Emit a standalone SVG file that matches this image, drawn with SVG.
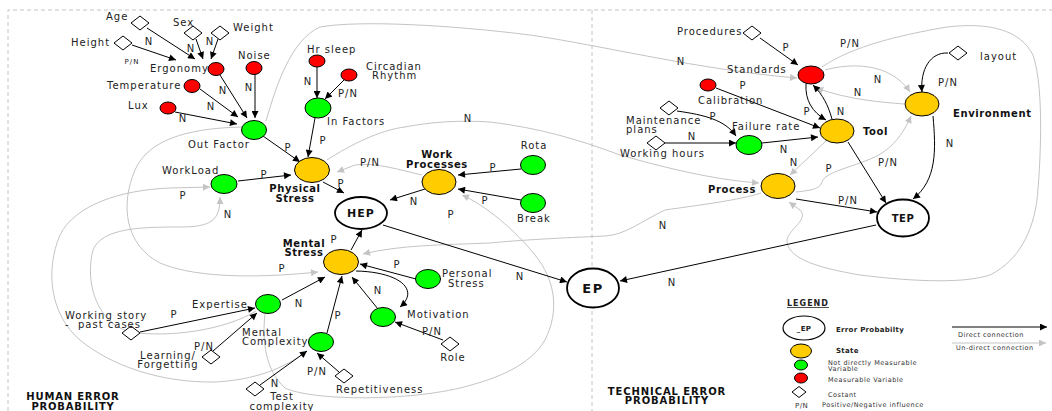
<svg xmlns="http://www.w3.org/2000/svg" width="1052" height="411" viewBox="0 0 1052 411">
<style>
text{font-family:"DejaVu Sans","Liberation Sans",sans-serif;font-size:10px;letter-spacing:1px;fill:#222}
.b{font-weight:bold;letter-spacing:0.6px;fill:#111}
.m{text-anchor:middle}
.s{font-size:7px;letter-spacing:1px}
.lg{font-size:6.5px;letter-spacing:0.5px;fill:#333}
.lb{font-size:7px;font-weight:bold;letter-spacing:0.3px;fill:#222}
.k{fill:none;stroke:#000;stroke-width:1;marker-end:url(#ab)}
.g{fill:none;stroke:#c4c4c4;stroke-width:1;marker-end:url(#ag)}
.red{fill:#ff0000;stroke:#000;stroke-width:1}
.grn{fill:#00ff00;stroke:#000;stroke-width:1}
.yel{fill:#ffcc00;stroke:#000;stroke-width:1}
.wh{fill:#fff;stroke:#000;stroke-width:1.8}
.dm{fill:#fff;stroke:#000;stroke-width:1}
</style>
<defs>
<marker id="ab" viewBox="0 0 10 10" refX="10" refY="5" markerWidth="9" markerHeight="7" markerUnits="userSpaceOnUse" orient="auto"><path d="M0,0 L10,5 L0,10 z" fill="#000"/></marker>
<marker id="ag" viewBox="0 0 10 10" refX="10" refY="5" markerWidth="9" markerHeight="7" markerUnits="userSpaceOnUse" orient="auto"><path d="M0,0 L10,5 L0,10 z" fill="#c4c4c4"/></marker>
<path id="dm" class="dm" d="M-9,0 L0,-7 L9,0 L0,7 Z"/>
</defs>
<rect width="1052" height="411" fill="#fff"/>
<path d="M8,411 V10 H1052 M592,10 V411" fill="none" stroke="#c4c4c4" stroke-dasharray="4 3"/>

<g id="connectors">
<!-- gray (indirect) -->
<path class="g" d="M266,121 C275,90 290,40 320,27 C360,20 450,25 530,35 C600,45 700,70 797,78"/>
<path class="g" d="M327,160 C350,145 380,130 405,127 C430,122 460,120 490,122 C540,128 580,140 620,155 C680,172 720,180 759,183"/>
<path class="g" d="M422,175 C400,170 375,162 355,165 L337,172"/>
<path class="g" d="M761,193 C740,200 700,205 665,210 C640,222 625,235 605,236 C560,238 520,240 490,243 C440,245 400,245 363,254"/>
<path class="g" d="M265,314 C262,340 265,370 285,388 C310,400 400,402 460,388 C500,378 530,365 545,340 C560,310 555,280 535,255 C515,230 485,205 462,195"/>
<path class="g" d="M242,127 C200,128 150,135 135,170 C120,205 125,245 160,263 C200,280 270,277 318,272"/>
<path class="g" d="M256,311 C225,330 170,338 130,332 C95,322 85,280 93,250 C102,228 140,227 180,227 C212,227 220,220 220,197"/>
<path class="g" d="M307,351 C285,368 255,380 215,382 C160,383 110,365 80,340 C50,315 45,270 60,235 C75,205 120,190 170,188 L210,187"/>
<path class="g" d="M822,67 C840,55 870,40 947,27 C990,22 1020,30 1033,55 C1045,90 1040,170 1037,200 C1033,230 1020,260 990,275 C960,285 900,280 860,275 C820,268 790,260 787,242 C786,230 810,220 800,210 L789,202"/>
<path class="g" d="M825,70 C850,63 890,62 910,92"/>
<path class="g" d="M904,104 C880,102 850,100 816,88"/>
<path class="g" d="M826,141 L790,175"/>
<path class="g" d="M796,192 C815,190 820,188 822,182 C825,172 850,168 875,157 C895,147 905,130 911,116"/>
<!-- black (direct) -->
<path class="k" d="M147,28 L195,59"/>
<path class="k" d="M132,45 L176,60"/>
<path class="k" d="M196,39 L203,59"/>
<path class="k" d="M218,39 L211,59"/>
<path class="k" d="M220,75 L247,118"/>
<path class="k" d="M255,73 L255,118"/>
<path class="k" d="M200,89 L238,117"/>
<path class="k" d="M175,112 L237,124"/>
<path class="k" d="M317,67 L317,98"/>
<path class="k" d="M345,79 L325,99"/>
<path class="k" d="M315,118 L308,157"/>
<path class="k" d="M263,136 L300,162"/>
<path class="k" d="M238,181 L291,175"/>
<path class="k" d="M323,182 L344,193"/>
<path class="k" d="M425,189 L390,200"/>
<path class="k" d="M521,169 L458,175"/>
<path class="k" d="M521,200 L458,189"/>
<path class="k" d="M351,250 L362,230"/>
<path class="k" d="M383,225 L567,282"/>
<path class="k" d="M416,279 L360,264"/>
<path class="k" d="M378,309 L352,277"/>
<path class="k" d="M356,271 C400,272 420,290 400,307"/>
<path class="k" d="M327,333 L342,276"/>
<path class="k" d="M282,300 L325,277"/>
<path class="k" d="M140,332 L255,308"/>
<path class="k" d="M213,351 L257,313"/>
<path class="k" d="M260,385 L307,351"/>
<path class="k" d="M339,372 L317,353"/>
<path class="k" d="M443,340 L395,322"/>
<path class="k" d="M760,38 L798,65"/>
<path class="k" d="M716,88 L820,128"/>
<path class="k" d="M677,111 C705,115 725,120 736,136"/>
<path class="k" d="M665,143 L736,143"/>
<path class="k" d="M762,143 L818,137"/>
<path class="k" d="M806,84 C805,100 812,112 826,120"/>
<path class="k" d="M832,119 C828,105 823,95 813,85"/>
<path class="k" d="M948,53 C930,52 920,70 922,92"/>
<path class="k" d="M933,116 C936,150 937,180 913,199"/>
<path class="k" d="M848,142 L886,203"/>
<path class="k" d="M796,199 L877,212"/>
<path class="k" d="M876,225 L620,281"/>
<!-- labels -->
<text class="m" x="149" y="45">N</text>
<text class="m s" x="132" y="64">P/N</text>
<text class="m" x="191" y="52">N</text>
<text class="m" x="210" y="45">N</text>
<text class="m" x="223" y="94">N</text>
<text class="m" x="249" y="91">N</text>
<text class="m" x="211" y="110">N</text>
<text class="m" x="183" y="122">N</text>
<text class="m" x="308" y="85">N</text>
<text class="m" x="348" y="97">P/N</text>
<text class="m" x="323" y="144">P</text>
<text class="m" x="288" y="151">P</text>
<text class="m" x="264" y="178">P</text>
<text class="m" x="341" y="187">P</text>
<text class="m" x="414" y="205">N</text>
<text class="m" x="493" y="171">P</text>
<text class="m" x="485" y="204">P</text>
<text class="m" x="334" y="243">P</text>
<text class="m" x="520" y="280">N</text>
<text class="m" x="397" y="268">P</text>
<text class="m" x="378" y="294">N</text>
<text class="m" x="338" y="319">P</text>
<text class="m" x="299" y="307">N</text>
<text class="m" x="174" y="318">P</text>
<text class="m" x="204" y="350">P/N</text>
<text class="m" x="275" y="387">N</text>
<text class="m" x="317" y="375">P/N</text>
<text class="m" x="432" y="335">P/N</text>
<text class="m" x="786" y="51">P</text>
<text class="m" x="743" y="89">P</text>
<text class="m" x="713" y="120">P</text>
<text class="m" x="692" y="140">N</text>
<text class="m" x="784" y="153">N</text>
<text class="m" x="807" y="115">P</text>
<text class="m" x="841" y="115">N</text>
<text class="m" x="948" y="86">P/N</text>
<text class="m" x="950" y="147">N</text>
<text class="m" x="888" y="166">P/N</text>
<text class="m" x="848" y="204">P/N</text>
<text class="m" x="672" y="286">N</text>
<text class="m" x="681" y="65">N</text>
<text class="m" x="468" y="122">N</text>
<text class="m" x="370" y="166">P/N</text>
<text class="m" x="663" y="229">N</text>
<text class="m" x="451" y="218">P</text>
<text class="m" x="282" y="272">P</text>
<text class="m" x="228" y="218">N</text>
<text class="m" x="183" y="199">P</text>
<text class="m" x="850" y="47">P/N</text>
<text class="m" x="878" y="83">N</text>
<text class="m" x="858" y="96">N</text>
<text class="m" x="794" y="166">N</text>
<text class="m" x="829" y="172">P</text>
</g>

<g id="age"><use href="#dm" x="140" y="23"/><text x="106" y="20">Age</text></g>
<g id="sex"><use href="#dm" x="193" y="33"/><text x="173" y="26">Sex</text></g>
<g id="weight"><use href="#dm" x="220" y="33"/><text x="233" y="31">Weight</text></g>
<g id="height"><use href="#dm" x="123" y="43"/><text x="71" y="46">Height</text></g>
<g id="ergonomy"><ellipse class="red" cx="216" cy="69" rx="8" ry="6.5"/><text x="150" y="72">Ergonomy</text></g>
<g id="noise"><ellipse class="red" cx="254" cy="68" rx="8" ry="6.5"/><text x="238" y="59">Noise</text></g>
<g id="temperature"><ellipse class="red" cx="192" cy="86" rx="8" ry="6.5"/><text x="107" y="89">Temperature</text></g>
<g id="lux"><ellipse class="red" cx="168" cy="108" rx="8" ry="6"/><text x="128" y="109">Lux</text></g>
<g id="outfactor"><ellipse class="grn" cx="254" cy="130" rx="12.5" ry="9.5"/><text x="188" y="148">Out Factor</text></g>
<g id="workload"><ellipse class="grn" cx="224" cy="184" rx="13" ry="9.5"/><text x="162" y="174">WorkLoad</text></g>
<g id="hrsleep"><ellipse class="red" cx="317" cy="61" rx="8" ry="6"/><text x="307" y="53">Hr sleep</text></g>
<g id="circadian"><ellipse class="red" cx="349" cy="75" rx="8" ry="6"/><text x="366" y="70">Circadian</text><text x="372" y="79">Rhythm</text></g>
<g id="infactors"><ellipse class="grn" cx="318" cy="108" rx="13" ry="10"/><text x="327" y="125">In Factors</text></g>
<g id="physicalstress"><ellipse class="yel" cx="312" cy="170" rx="17.5" ry="12.5"/><text class="b m" x="295" y="192">Physical</text><text class="b m" x="295" y="202">Stress</text></g>
<g id="workprocesses"><ellipse class="yel" cx="439" cy="182" rx="17" ry="12.5"/><text class="b m" x="437" y="158">Work</text><text class="b m" x="437" y="168">Processes</text></g>
<g id="rota"><ellipse class="grn" cx="533" cy="165" rx="12.5" ry="9.5"/><text class="m" x="534" y="149">Rota</text></g>
<g id="break"><ellipse class="grn" cx="533" cy="203" rx="12.5" ry="9.5"/><text class="m" x="534" y="222">Break</text></g>
<g id="hep"><ellipse class="wh" cx="361" cy="213" rx="26" ry="16"/><text class="b m" x="361" y="217" style="font-size:11px;letter-spacing:1px">HEP</text></g>
<g id="mentalstress"><ellipse class="yel" cx="341" cy="262" rx="17.5" ry="12.5"/><text class="b m" x="304" y="247">Mental</text><text class="b m" x="304" y="256">Stress</text></g>
<g id="personalstress"><ellipse class="grn" cx="428" cy="279" rx="12.5" ry="9.5"/><text x="442" y="277">Personal</text><text x="448" y="287">Stress</text></g>
<g id="motivation"><ellipse class="grn" cx="383" cy="317" rx="12.5" ry="9.5"/><text x="407" y="318">Motivation</text></g>
<g id="role"><use href="#dm" x="450" y="344"/><text class="m" x="453" y="361">Role</text></g>
<g id="mentalcomplexity"><ellipse class="grn" cx="321" cy="342" rx="12.5" ry="9.5"/><text x="242" y="336">Mental</text><text x="242" y="345">Complexity</text></g>
<g id="repetitiveness"><use href="#dm" x="344" y="376"/><text x="336" y="393">Repetitiveness</text></g>
<g id="testcomplexity"><use href="#dm" x="255" y="389"/><text class="m" x="282" y="400">Test</text><text class="m" x="282" y="410">complexity</text></g>
<g id="expertise"><ellipse class="grn" cx="268" cy="304" rx="12.5" ry="9.5"/><text x="192" y="308">Expertise</text></g>
<g id="workingstory"><use href="#dm" x="131" y="333"/><text x="65" y="319">Working story</text><text x="65" y="328" xml:space="preserve">-  past cases</text></g>
<g id="learning"><use href="#dm" x="211" y="357"/><text class="m" x="168" y="359">Learning/</text><text class="m" x="168" y="368">Forgetting</text></g>
<g id="ep"><ellipse class="wh" cx="593" cy="288" rx="26" ry="19.5"/><text class="b m" x="593" y="293" style="font-size:13px;letter-spacing:1.5px">EP</text></g>

<g id="procedures"><use href="#dm" x="752" y="33"/><text x="677" y="35">Procedures</text></g>
<g id="standards"><ellipse class="red" cx="811" cy="75" rx="13" ry="9"/><text x="727" y="73">Standards</text></g>
<g id="calibration"><ellipse class="red" cx="708" cy="85" rx="8" ry="6"/><text x="698" y="104">Calibration</text></g>
<g id="maintenance"><use href="#dm" x="669" y="108"/><text x="626" y="124">Maintenance</text><text x="626" y="133">plans</text></g>
<g id="workinghours"><use href="#dm" x="656" y="143"/><text x="620" y="157">Working hours</text></g>
<g id="failurerate"><ellipse class="grn" cx="749" cy="145" rx="13" ry="9.5"/><text x="732" y="130">Failure rate</text></g>
<g id="tool"><ellipse class="yel" cx="837" cy="131" rx="17" ry="12"/><text class="b" x="863" y="135">Tool</text></g>
<g id="environment"><ellipse class="yel" cx="922" cy="104" rx="17" ry="12"/><text class="b" x="953" y="117">Environment</text></g>
<g id="layout"><use href="#dm" x="958" y="53"/><text x="980" y="60">layout</text></g>
<g id="process"><ellipse class="yel" cx="778" cy="186" rx="17" ry="12.5"/><text class="b" x="708" y="193">Process</text></g>
<g id="tep"><ellipse class="wh" cx="903" cy="218" rx="26" ry="18.5"/><text class="b m" x="903" y="222" style="letter-spacing:0.5px">TEP</text></g>

<g id="section-labels">
<text class="b m" x="73" y="400" style="letter-spacing:0.8px">HUMAN ERROR</text>
<text class="b m" x="73" y="410" style="letter-spacing:0.8px">PROBABILITY</text>
<text class="b m" x="667" y="395" style="letter-spacing:0.9px">TECHNICAL ERROR</text>
<text class="b m" x="667" y="404" style="letter-spacing:0.9px">PROBABILITY</text>
</g>

<g id="legend">
<text x="787" y="306" style="font-size:8px;font-weight:bold;letter-spacing:1px;text-decoration:underline">LEGEND</text>
<ellipse cx="804" cy="328" rx="21" ry="12" fill="#fff" stroke="#000" stroke-width="1.2"/>
<text class="lb m" x="804" y="331">_EP</text>
<text class="lb" x="836" y="332">Error Probabilty</text>
<ellipse class="yel" cx="801" cy="351" rx="10.5" ry="7"/>
<text class="lb" x="836" y="353">State</text>
<ellipse class="grn" cx="801" cy="365" rx="6.5" ry="5"/>
<text class="lg" x="828" y="365">Not directly  Measurable</text>
<text class="lg" x="828" y="371">Variable</text>
<ellipse class="red" cx="801" cy="378" rx="6.5" ry="5"/>
<text class="lg" x="828" y="382">Measurable Variable</text>
<path class="dm" d="M792,392 L799,386.5 L806,392 L799,397.5 Z"/>
<text class="lg" x="828" y="397">Costant</text>
<text class="lg" x="795" y="408" style="font-size:7px">P/N</text>
<text class="lg" x="822" y="407">Positive/Negative influence</text>
<path d="M952,327 L1047,327" stroke="#000" stroke-width="1" marker-end="url(#ab)"/>
<text class="lg" x="958" y="337">Direct connection</text>
<path d="M952,343 L1046,343" stroke="#c4c4c4" stroke-width="1" marker-end="url(#ag)"/>
<text class="lg" x="956" y="350">Un-direct connection</text>
</g>
</svg>
